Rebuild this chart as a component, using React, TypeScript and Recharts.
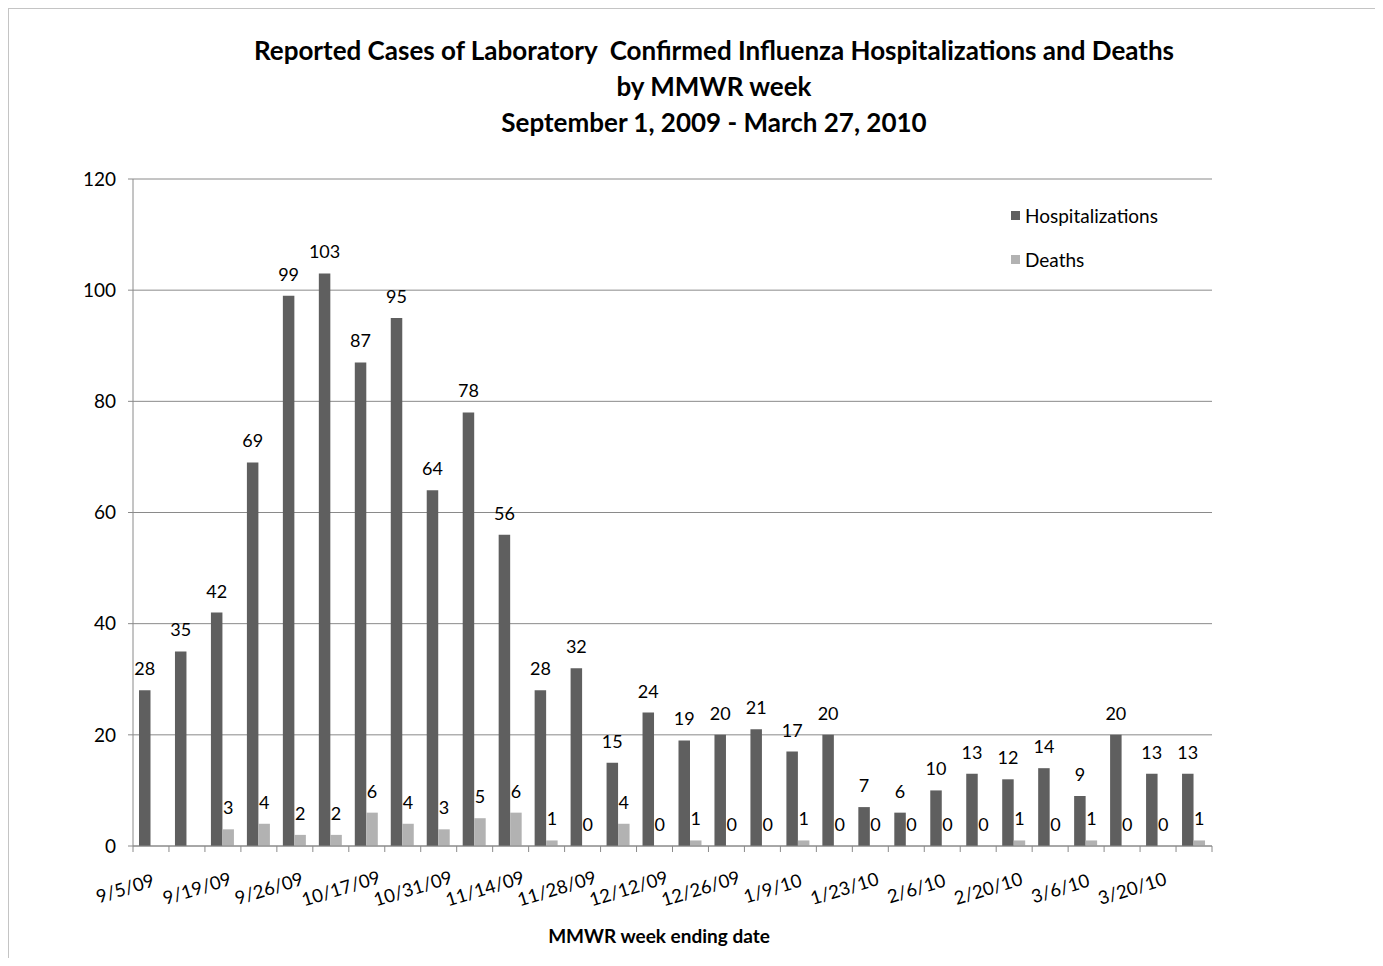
import { BarChart, Bar, XAxis, YAxis, CartesianGrid, LabelList } from 'recharts';

// MMWR week ending dates (only every other one is printed on the axis)
const weeks = [
  '9/5/09', '9/12/09', '9/19/09', '9/22/09', '9/26/09', '10/10/09', '10/17/09', '10/24/09',
  '10/31/09', '11/7/09', '11/14/09', '11/21/09', '11/28/09', '12/5/09', '12/12/09', '12/19/09',
  '12/26/09', '1/2/10', '1/9/10', '1/16/10', '1/23/10', '1/30/10', '2/6/10', '2/13/10',
  '2/20/10', '2/27/10', '3/6/10', '3/13/10', '3/20/10', '3/27/10',
];
const hospitalizations = [
  28, 35, 42, 69, 99, 103, 87, 95, 64, 78, 56, 28, 32, 15, 24,
  19, 20, 21, 17, 20, 7, 6, 10, 13, 12, 14, 9, 20, 13, 13,
];
const deaths: (number | null)[] = [
  null, null, 3, 4, 2, 2, 6, 4, 3, 5, 6, 1, 0, 4, 0,
  1, 0, 0, 1, 0, 0, 0, 0, 0, 1, 0, 1, 0, 0, 1,
];
const yTicks = [0, 20, 40, 60, 80, 100, 120];

const data = weeks.map((week, i) => ({
  week,
  hospitalizations: hospitalizations[i],
  deaths: deaths[i],
}));

const HOSP = '#5f5f5f';
const DEATH = '#b2b2b2';
const AXIS = '#8a8a8a';
const FONT = 'Lato, "Open Sans", sans-serif';

const W = 1368;
const H = 948;
const M = { top: 170, right: 165, left: 64, bottom: 0 };
const Y_W = 60;
const band = (W - M.left - Y_W - M.right) / weeks.length;

const WeekTick = (props: any) => {
  const { x, y, payload } = props;
  const i = payload.index;
  const left = x - band / 2;
  return (
    <g>
      <line x1={left} y1={y} x2={left} y2={y + 6} stroke={AXIS} />
      {i === weeks.length - 1 && (
        <line x1={x + band / 2} y1={y} x2={x + band / 2} y2={y + 6} stroke={AXIS} />
      )}
      {i % 2 === 0 && (
        <text
          transform={`translate(${x - 26},${y + 42}) rotate(-17)`}
          textAnchor="middle"
          dominantBaseline="central"
          fontSize={18.5}
          fontFamily={FONT}
          fill="#000"
        >
          {payload.value}
        </text>
      )}
    </g>
  );
};

const ValueLabel = (props: any) => {
  const { x, y, width, value } = props;
  if (value === null || value === undefined) return null;
  return (
    <text x={x + width / 2} y={y - 15} textAnchor="middle" fontSize={18} fontFamily={FONT} fill="#000">
      {value}
    </text>
  );
};

export default function App() {
  return (
    <div
      style={{
        position: 'relative',
        width: 1370,
        height: 950,
        border: '1px solid #c4c4c4',
        borderBottom: 'none',
        boxSizing: 'border-box',
        fontFamily: FONT,
        background: '#fff',
      }}
    >
      <div
        style={{
          position: 'absolute',
          top: 23,
          left: 0,
          width: 1410,
          textAlign: 'center',
          fontSize: 26,
          fontWeight: 700,
          lineHeight: '36px',
          color: '#000',
        }}
      >
        <div>Reported Cases of Laboratory&nbsp; Confirmed Influenza Hospitalizations and Deaths</div>
        <div>by MMWR week</div>
        <div>September 1, 2009 - March 27, 2010</div>
      </div>

      <div style={{ position: 'absolute', left: 0, top: 0 }}>
        <BarChart width={W} height={H} data={data} margin={M} barGap={0} barSize={11.5}>
          <CartesianGrid vertical={false} stroke={AXIS} />
          <XAxis
            dataKey="week"
            interval={0}
            tickLine={false}
            tickSize={0}
            tickMargin={0}
            height={H - M.top - 667}
            axisLine={{ stroke: AXIS }}
            tick={<WeekTick />}
          />
          <YAxis
            domain={[0, 120]}
            ticks={yTicks}
            width={Y_W}
            tickSize={5}
            tickMargin={12}
            axisLine={{ stroke: AXIS }}
            tickLine={{ stroke: AXIS }}
            tick={{ fill: '#000', fontSize: 19, fontFamily: FONT }}
          />
          <Bar dataKey="hospitalizations" fill={HOSP} isAnimationActive={false}>
            <LabelList dataKey="hospitalizations" content={<ValueLabel />} />
          </Bar>
          <Bar dataKey="deaths" fill={DEATH} minPointSize={0.01} isAnimationActive={false}>
            <LabelList dataKey="deaths" content={<ValueLabel />} />
          </Bar>
        </BarChart>
      </div>

      <div style={{ position: 'absolute', left: 1002, top: 194, fontSize: 19, color: '#000' }}>
        {[
          { name: 'Hospitalizations', color: HOSP },
          { name: 'Deaths', color: DEATH },
        ].map((s) => (
          <div key={s.name} style={{ display: 'flex', alignItems: 'center', height: 24, marginBottom: 20 }}>
            <span style={{ width: 9, height: 9, background: s.color, marginRight: 5 }} />
            <span>{s.name}</span>
          </div>
        ))}
      </div>

      <div
        style={{
          position: 'absolute',
          left: 0,
          width: 1300,
          top: 915,
          textAlign: 'center',
          fontSize: 19,
          fontWeight: 700,
          lineHeight: '24px',
          color: '#000',
        }}
      >
        MMWR week ending date
      </div>
    </div>
  );
}
